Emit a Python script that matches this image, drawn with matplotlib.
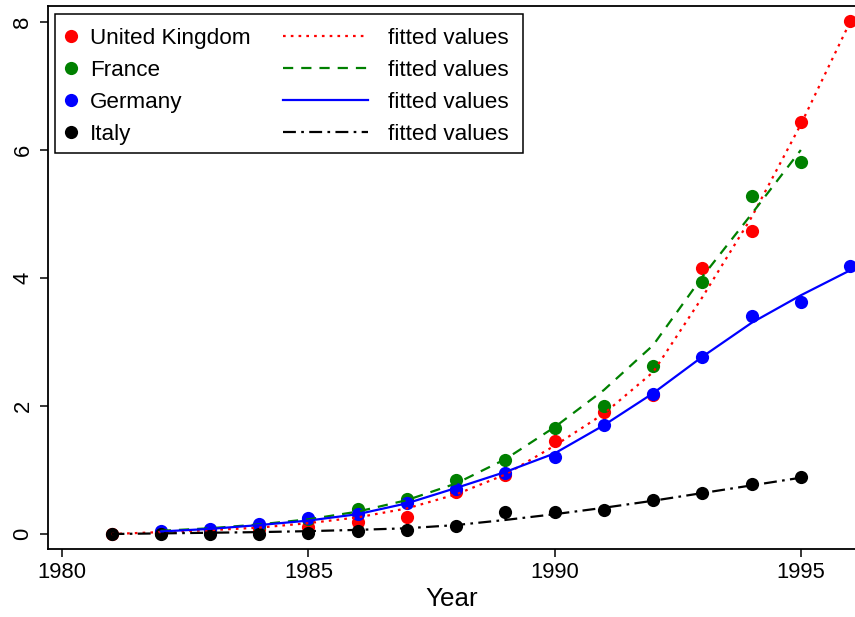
import numpy as np
import matplotlib
matplotlib.use('Agg')
import matplotlib.pyplot as plt
from matplotlib.lines import Line2D
from matplotlib.patches import Rectangle

plt.rcParams['font.family'] = ['Liberation Sans', 'DejaVu Sans']

# Daten
years_uk = list(range(1981, 1997))
uk = [0.0, 0.02, 0.05, 0.08, 0.11, 0.19, 0.27, 0.65, 0.93, 1.46, 1.90, 2.17, 4.15, 4.74, 6.44, 8.02]
uk_fit = [0.0, 0.03, 0.06, 0.10, 0.17, 0.26, 0.40, 0.62, 0.93, 1.38, 1.88, 2.53, 3.70, 4.95, 6.40, 8.00]

years_fr = list(range(1982, 1996))
france = [0.02, 0.07, 0.13, 0.24, 0.39, 0.55, 0.84, 1.16, 1.66, 2.00, 2.63, 3.93, 5.28, 5.82]
france_fit = [0.05, 0.09, 0.15, 0.23, 0.35, 0.53, 0.79, 1.17, 1.67, 2.25, 2.95, 4.02, 5.00, 6.00]

years_de = list(range(1982, 1997))
germany = [0.05, 0.08, 0.15, 0.25, 0.31, 0.49, 0.71, 0.96, 1.21, 1.71, 2.19, 2.76, 3.41, 3.63, 4.18]
germany_fit = [0.04, 0.08, 0.14, 0.21, 0.31, 0.48, 0.72, 0.97, 1.26, 1.70, 2.20, 2.77, 3.30, 3.73, 4.12]

years_it = list(range(1981, 1996))
italy = [0.0, 0.0, 0.0, 0.005, 0.01, 0.05, 0.06, 0.12, 0.34, 0.35, 0.375, 0.53, 0.64, 0.78, 0.89]
italy_fit = [0.0, 0.01, 0.02, 0.03, 0.045, 0.065, 0.09, 0.14, 0.22, 0.31, 0.41, 0.52, 0.64, 0.76, 0.88]

x_ticks = [1980, 1985, 1990, 1995]
y_ticks = [0, 2, 4, 6, 8]

W, H = 855, 617
fig = plt.figure(figsize=(W / 100, H / 100), dpi=100)
ax = fig.add_axes([48 / W, 1 - 549 / H, 1 - 48 / W, (549 - 6) / H])

ms = 9.5
lw = 1.6
series = [
    ('United Kingdom', years_uk, uk, uk_fit, 'red', (0, (1.2, 2.3))),
    ('France', years_fr, france, france_fit, 'green', (0, (4.6, 3.6))),
    ('Germany', years_de, germany, germany_fit, 'blue', '-'),
    ('Italy', years_it, italy, italy_fit, 'black', (0, (5.8, 2.4, 1.2, 2.4))),
]

for name, yrs, vals, fit, col, ls in series:
    ax.plot(yrs, vals, 'o', color=col, ms=ms, mew=0, zorder=3)
for name, yrs, vals, fit, col, ls in series:
    ax.plot(yrs, fit, color=col, linestyle=ls, lw=lw, zorder=4)

ax.set_xlim(1979.71, 1996.10)
ax.set_ylim(-0.234, 8.25)
ax.set_xticks(x_ticks)
ax.set_yticks(y_ticks)
ax.spines['right'].set_visible(False)
for s in ['left', 'top', 'bottom']:
    ax.spines[s].set_linewidth(1.3)
ax.tick_params(axis='both', direction='out', length=6, width=1.1, labelsize=15.8)
ax.tick_params(axis='x', pad=3)
ax.tick_params(axis='y', pad=4.5, labelrotation=90)
for lab in ax.get_yticklabels():
    lab.set_va('center')
ax.set_xlabel('Year', fontsize=18.7, labelpad=3.5)

# Legende: zwei Spalten, gemeinsamer Rahmen
leg_fs = 16.2
mk_handles = [Line2D([], [], marker='o', ls='none', color=c, ms=ms, mew=0) for _, _, _, _, c, _ in series]
ln_handles = [Line2D([], [], color=c, linestyle=l, lw=lw) for _, _, _, _, c, l in series]
leg1 = fig.legend(mk_handles, [s[0] for s in series], loc='upper left',
                  bbox_to_anchor=(62 / W, 1 - 28 / H), frameon=False, fontsize=leg_fs,
                  handlelength=0.8, handletextpad=0.44, labelspacing=0.49,
                  borderpad=0, borderaxespad=0)
leg2 = fig.legend(ln_handles, ['fitted values'] * 4, loc='upper left',
                  bbox_to_anchor=(283 / W, 1 - 28 / H), frameon=False, fontsize=leg_fs,
                  handlelength=3.78, handletextpad=0.89, labelspacing=0.49,
                  borderpad=0, borderaxespad=0)
fig.add_artist(Rectangle((55 / W, 1 - 153 / H), 468 / W, 139 / H, transform=fig.transFigure,
                         fill=True, facecolor='white', edgecolor='black', lw=1.1, zorder=4))
leg1.set_zorder(5)
leg2.set_zorder(5)

fig.savefig('out.png', dpi=100)
